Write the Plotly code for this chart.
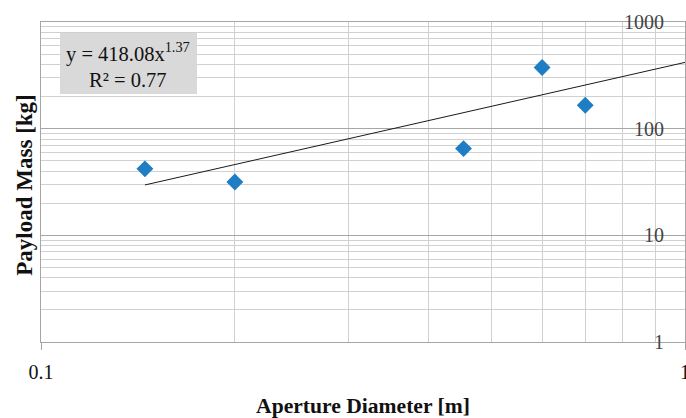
import plotly.graph_objects as go

# Data
aperture_m = [0.145, 0.2, 0.453, 0.6, 0.7]
payload_kg = [42, 31.6, 65, 375, 166]

# Power-law trendline shown on chart: y = 418.08 x^1.37
trend_coef = 418.08
trend_exp = 1.37
trend_x = [0.145, 1.0]
trend_y = [trend_coef * x ** trend_exp for x in trend_x]

x_ticks = [0.1, 1]
x_ticklabels = ["0.1", "1"]
x_minor = [0.2, 0.3, 0.4, 0.5, 0.6, 0.7, 0.8, 0.9]
y_ticks = [1, 10, 100, 1000]
y_ticklabels = ["1", "10", "100", "1000"]
y_minor = [m * d for d in (1, 10, 100) for m in range(2, 10)]

FONT = "Liberation Serif"
MAJOR = "#a6a6a6"
MINOR = "#d0d0d0"

fig = go.Figure()
fig.add_trace(go.Scatter(
    x=trend_x, y=trend_y, mode="lines",
    line=dict(color="#1a1a1a", width=1), showlegend=False, hoverinfo="skip"))
fig.add_trace(go.Scatter(
    x=aperture_m, y=payload_kg, mode="markers",
    marker=dict(symbol="diamond", size=13, color="#1f7dc4"), showlegend=False))

fig.update_layout(
    width=686, height=418,
    margin=dict(l=41, r=1, t=22, b=76),
    paper_bgcolor="white", plot_bgcolor="white",
    font=dict(family=FONT, size=20, color="#111111"),
    xaxis=dict(
        type="log", range=[-1, 0], automargin=False,
        tickmode="array", tickvals=x_ticks, ticktext=x_ticklabels,
        ticks="outside", ticklen=7, tickcolor=MAJOR,
        ticklabelstandoff=5, ticklabeloverflow="allow",
        showgrid=True, gridcolor=MAJOR, gridwidth=1,
        showline=True, linecolor=MAJOR, linewidth=1, mirror=True,
        zeroline=False,
        minor=dict(tickmode="array", tickvals=x_minor, showgrid=True,
                   gridcolor=MINOR, gridwidth=1, ticks=""),
        title=dict(text="<b>Aperture Diameter [m]</b>", standoff=21,
                   font=dict(family=FONT, size=21.6)),
    ),
    yaxis=dict(
        type="log", range=[0, 3], automargin=False, side="right",
        tickmode="array", tickvals=y_ticks, ticktext=y_ticklabels,
        ticks="", ticklabelposition="inside", ticklabelstandoff=22,
        ticklabeloverflow="allow",
        showgrid=True, gridcolor=MAJOR, gridwidth=1,
        showline=True, linecolor=MAJOR, linewidth=1, mirror=True,
        zeroline=False,
        minor=dict(tickmode="array", tickvals=y_minor, showgrid=True,
                   gridcolor=MINOR, gridwidth=1, ticks=""),
    ),
    shapes=[
        dict(type="rect", xref="paper", yref="paper",
             x0=0.0295, x1=0.2422, y0=0.775, y1=0.9656,
             fillcolor="#d9d9d9", line=dict(width=0), layer="above"),
    ],
    annotations=[
        dict(text="y = 418.08x<sup>1.37</sup>",
             xref="paper", yref="paper", x=0.135, y=0.906,
             xanchor="center", yanchor="middle", showarrow=False,
             font=dict(family=FONT, size=20.5, color="#111111")),
        dict(text="R² = 0.77",
             xref="paper", yref="paper", x=0.135, y=0.819,
             xanchor="center", yanchor="middle", showarrow=False,
             font=dict(family=FONT, size=20.5, color="#111111")),
        dict(text="<b>Payload Mass [kg]</b>", xref="paper", yref="paper",
             x=-0.0256, y=0.49, xanchor="center", yanchor="middle",
             textangle=-90, showarrow=False,
             font=dict(family=FONT, size=23, color="#111111")),
    ],
)

fig.write_html("out.html", config={"displayModeBar": False},
               post_script="document.body.style.margin='0';")
